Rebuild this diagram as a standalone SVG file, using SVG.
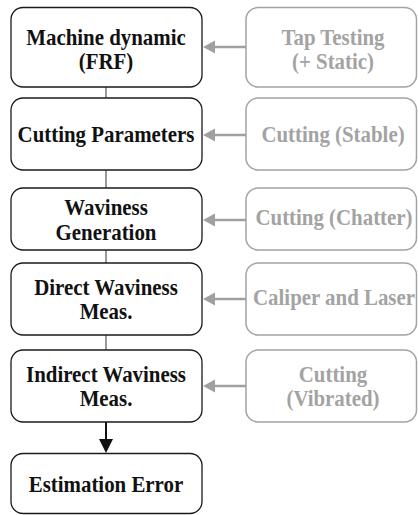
<svg xmlns="http://www.w3.org/2000/svg" width="418" height="515" viewBox="0 0 418 515">
<defs>
<style>
.lb{fill:#fff;stroke:#1a1a1a;stroke-width:1.3}
.rb{fill:#fff;stroke:#a3a3a3;stroke-width:1.5}
.lt{font-family:"Liberation Serif","Times New Roman",serif;font-weight:bold;font-size:24px;fill:#111;text-anchor:middle}
.rt{font-family:"Liberation Serif","Times New Roman",serif;font-weight:bold;font-size:24px;fill:#a3a3a3;text-anchor:middle}
.gl{stroke:#a0a0a0;stroke-width:2.5;fill:none}
.vl{stroke:#555;stroke-width:1.2;fill:none}
</style>
</defs>
<g id="connectors">
<line class="vl" x1="106" y1="87" x2="106" y2="98"/>
<line class="vl" x1="106" y1="170" x2="106" y2="188"/>
<line class="vl" x1="106" y1="250" x2="106" y2="263"/>
<line class="vl" x1="106" y1="335" x2="106" y2="350"/>
<line x1="106" y1="422" x2="106" y2="439" stroke="#111" stroke-width="2"/>
<path d="M99,439 L113,439 L106,453 Z" fill="#111"/>
<line class="gl" x1="246" y1="47" x2="214" y2="47"/>
<path d="M215,40.5 L203,47 L215,53.5 Z" fill="#a0a0a0"/>
<line class="gl" x1="246" y1="135" x2="214" y2="135"/>
<path d="M215,128.5 L203,135 L215,141.5 Z" fill="#a0a0a0"/>
<line class="gl" x1="246" y1="220" x2="214" y2="220"/>
<path d="M215,213.5 L203,220 L215,226.5 Z" fill="#a0a0a0"/>
<line class="gl" x1="246" y1="299" x2="214" y2="299"/>
<path d="M215,292.5 L203,299 L215,305.5 Z" fill="#a0a0a0"/>
<line class="gl" x1="246" y1="386" x2="214" y2="386"/>
<path d="M215,379.5 L203,386 L215,392.5 Z" fill="#a0a0a0"/>
</g>
<g id="n1"><rect class="lb" x="11" y="7.5" width="191" height="79.5" rx="12"/><text class="lt" transform="translate(106 45) scale(0.87 1)">Machine dynamic</text><text class="lt" transform="translate(106 69) scale(0.87 1)">(FRF)</text></g>
<g id="n2"><rect class="lb" x="11" y="98" width="191" height="72" rx="12"/><text class="lt" transform="translate(106 142) scale(0.87 1)">Cutting Parameters</text></g>
<g id="n3"><rect class="lb" x="11" y="188" width="191" height="62" rx="12"/><text class="lt" transform="translate(106 215) scale(0.87 1)">Waviness</text><text class="lt" transform="translate(106 240) scale(0.87 1)">Generation</text></g>
<g id="n4"><rect class="lb" x="11" y="263" width="191" height="72" rx="12"/><text class="lt" transform="translate(106 295) scale(0.87 1)">Direct Waviness</text><text class="lt" transform="translate(106 319) scale(0.87 1)">Meas.</text></g>
<g id="n5"><rect class="lb" x="11" y="350" width="191" height="72" rx="12"/><text class="lt" transform="translate(106 382) scale(0.87 1)">Indirect Waviness</text><text class="lt" transform="translate(106 406) scale(0.87 1)">Meas.</text></g>
<g id="n6"><rect class="lb" x="11" y="453.5" width="191" height="60" rx="12"/><text class="lt" transform="translate(106 492) scale(0.87 1)">Estimation Error</text></g>
<g id="r1"><rect class="rb" x="246" y="7.5" width="170.5" height="79.5" rx="12"/><text class="rt" transform="translate(333 45) scale(0.87 1)">Tap Testing</text><text class="rt" transform="translate(333 69) scale(0.87 1)">(+ Static)</text></g>
<g id="r2"><rect class="rb" x="246" y="98" width="170.5" height="72" rx="12"/><text class="rt" transform="translate(333 142) scale(0.87 1)">Cutting (Stable)</text></g>
<g id="r3"><rect class="rb" x="246" y="188" width="170.5" height="62" rx="12"/><text class="rt" transform="translate(334 225) scale(0.87 1)">Cutting (Chatter)</text></g>
<g id="r4"><rect class="rb" x="246" y="263" width="170.5" height="72" rx="12"/><text class="rt" transform="translate(334 305) scale(0.87 1)">Caliper and Laser</text></g>
<g id="r5"><rect class="rb" x="246" y="350" width="170.5" height="72" rx="12"/><text class="rt" transform="translate(333 382) scale(0.87 1)">Cutting</text><text class="rt" transform="translate(333 406) scale(0.87 1)">(Vibrated)</text></g>
</svg>
